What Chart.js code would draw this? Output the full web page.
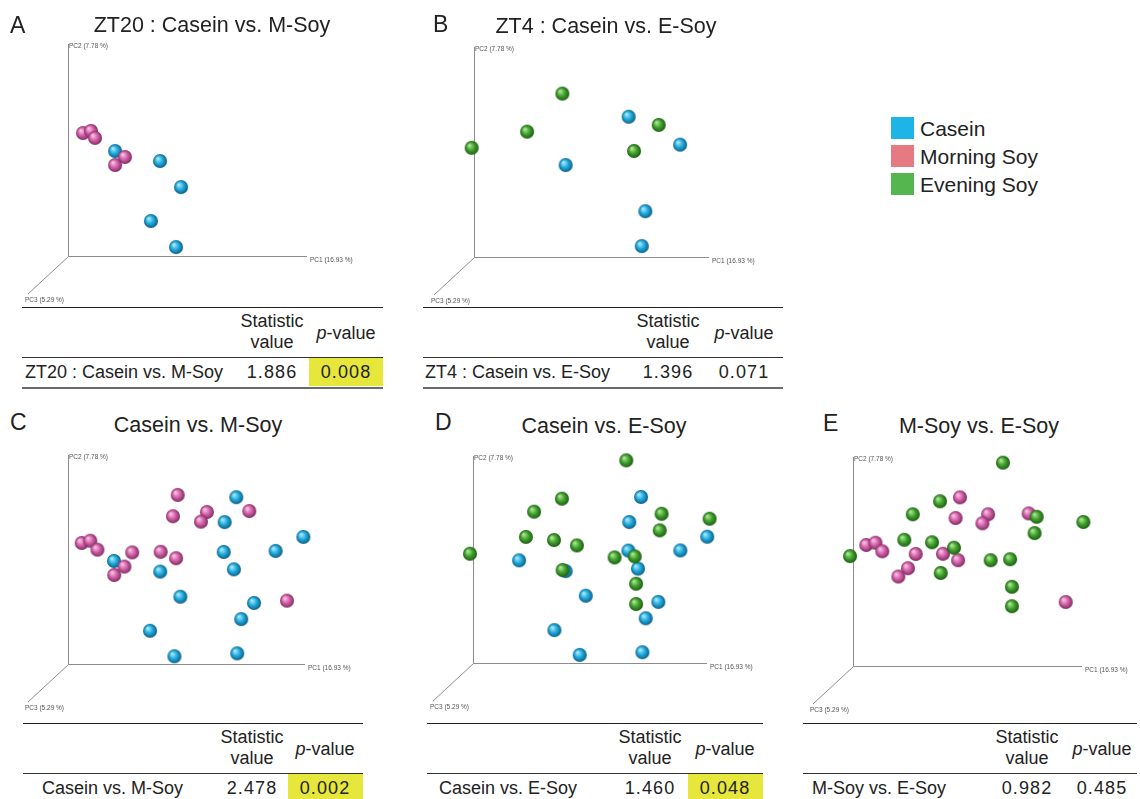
<!DOCTYPE html>
<html>
<head>
<meta charset="utf-8">
<script src="https://cdn.jsdelivr.net/npm/chart.js@4.4.1/dist/chart.umd.min.js"></script>
<style>
  body { margin: 0; width: 1140px; height: 799px; background: #fff; position: relative; overflow: hidden;
         font-family: "Liberation Sans", Arial, sans-serif; color: #222; }
  .abs { position: absolute; white-space: nowrap; }
  .letter { font-size: 23px; line-height: 23px; }
  .title { font-size: 21.5px; line-height: 21.5px; transform: translateX(-50%); }
  .cell { font-size: 18px; line-height: 18px; }
  .num { letter-spacing: 1.1px; }
  .center { transform: translateX(-50%); }
  .hl { background: #e6e63b; }
  .legtxt { font-size: 21px; line-height: 21px; }
</style>
</head>
<body>
<script>
// group names and legend colours
const groupNames = ['Casein', 'Morning Soy', 'Evening Soy'];
const groupColors = ['#1fb4e6', '#e57a83', '#55b54e'];

// PCoA scores (PC1 %, PC2 % of drawn axis length)
const aCasein = [[19.7,49.5],[38.5,44.8],[47.3,32.5],[34.7,16.5],[45.2,4.2]];
const aMSoy   = [[6.3,58.0],[9.6,59.0],[11.3,55.7],[23.8,46.7],[19.7,42.9]];

const bCasein = [[65.8,66.8],[87.7,53.5],[39.0,43.8],[72.9,21.8],[71.4,5.2]];
const bESoy   = [[-1.0,52.0],[22.6,59.7],[37.6,77.8],[78.6,62.9],[68.1,50.5]];

const cMSoy   = [[46.3,80.9],[44.3,70.7],[58.6,72.7],[56.1,68.1],[76.5,73.2],[5.8,57.9],[9.4,59.0],
                 [12.4,54.7],[27.1,53.4],[39.1,53.7],[45.6,50.6],[23.8,46.6],[19.5,42.6],[92.4,30.3]];
const cCasein = [[71.0,79.8],[66.1,67.9],[99.3,60.8],[65.7,53.6],[87.6,54.1],[19.4,49.3],[38.9,44.2],
                 [70.0,45.3],[47.4,32.2],[78.5,29.2],[73.1,21.5],[34.6,15.9],[44.9,3.7],[71.4,5.1]];

const dESoy   = [[65.5,97.9],[38.0,79.4],[26.1,73.1],[80.6,72.1],[101.1,69.7],[79.8,64.1],[22.6,60.9],
                 [34.6,59.4],[44.4,56.8],[-1.3,52.8],[60.5,51.0],[69.1,51.5],[38.3,44.9],[69.7,38.3],[69.7,28.5]];
const dCasein = [[71.8,80.2],[66.8,68.1],[100.1,61.0],[66.4,54.3],[88.6,54.4],[19.7,49.6],[39.6,44.4],
                 [70.5,45.6],[48.2,32.5],[79.2,29.5],[73.8,21.6],[34.8,15.9],[45.6,3.9],[72.4,5.2]];

const eESoy   = [[65.5,97.3],[38.0,78.8],[26.1,72.6],[80.2,71.4],[100.6,68.9],[79.3,63.6],[22.4,60.4],
                 [34.5,59.2],[44.1,56.6],[-1.3,52.6],[60.1,50.6],[68.6,51.1],[38.3,44.5],[69.4,37.9],[69.4,28.6]];
const eMSoy   = [[46.7,80.7],[44.8,70.8],[59.0,72.6],[56.5,68.3],[76.7,73.0],[5.8,57.9],[9.8,59.0],
                 [12.8,54.9],[27.4,53.6],[39.3,53.7],[45.9,50.6],[24.0,46.8],[19.8,42.8],[92.9,30.6]];

// axis labels
const pc1Label = 'PC1 (16.93 %)';
const pc2Label = 'PC2 (7.78 %)';
const pc3Label = 'PC3 (5.29 %)';

// PERMANOVA results
const comparisons = ['ZT20 : Casein vs. M-Soy', 'ZT4 : Casein vs. E-Soy', 'Casein vs. M-Soy', 'Casein vs. E-Soy', 'M-Soy vs. E-Soy'];
const titles      = ['ZT20 : Casein vs. M-Soy', 'ZT4 : Casein vs. E-Soy', 'Casein vs. M-Soy', 'Casein vs. E-Soy', 'M-Soy vs. E-Soy'];
const letters     = ['A', 'B', 'C', 'D', 'E'];
const statValues  = ['1.886', '1.396', '2.478', '1.460', '0.982'];
const pValues     = ['0.008', '0.071', '0.002', '0.048', '0.485'];
const significant = [true, false, true, true, false];

// sphere sprites
function sphere(light, mid, dark) {
  const s = 16, c = document.createElement('canvas');
  c.width = s; c.height = s;
  const g = c.getContext('2d');
  const grad = g.createRadialGradient(s/2 - 2.4, s/2 - 2.6, 0.4, s/2, s/2, 7.2);
  grad.addColorStop(0, light);
  grad.addColorStop(0.5, mid);
  grad.addColorStop(1, dark);
  g.fillStyle = grad;
  g.beginPath(); g.arc(s/2, s/2, 7.0, 0, Math.PI * 2); g.fill();
  return c;
}
const sprites = {
  casein: sphere('#b0ecfd', '#22addf', '#0c5a80'),
  msoy:   sphere('#fac6e8', '#d462a9', '#7a2a5e'),
  esoy:   sphere('#b5e79c', '#42a42e', '#1b5912')
};

const pad = { left: 50, right: 60, top: 15, bottom: 50 };

const panels = [
  { ox: 68,  oy: 256, w: 239, h: 212, sets: [[aMSoy, 'msoy'], [aCasein, 'casein']] },
  { ox: 474, oy: 257, w: 235, h: 210, sets: [[bESoy, 'esoy'], [bCasein, 'casein']] },
  { ox: 68,  oy: 664, w: 237, h: 209, sets: [[cMSoy, 'msoy'], [cCasein, 'casein']] },
  { ox: 473, oy: 663, w: 234, h: 207, sets: [[dESoy, 'esoy'], [dCasein, 'casein']] },
  { ox: 853, oy: 666, w: 229, h: 209, sets: [[eESoy, 'esoy'], [eMSoy, 'msoy']] }
];

const pcAxes = {
  id: 'pcAxes',
  beforeDatasetsDraw(chart) {
    const { ctx, scales: { x, y } } = chart;
    const x0 = x.getPixelForValue(0), y0 = y.getPixelForValue(0);
    const x1 = x.getPixelForValue(100), y1 = y.getPixelForValue(100);
    const dx = -40, dy = 38;
    ctx.save();
    ctx.strokeStyle = '#8c8c8c';
    ctx.lineWidth = 1;
    ctx.beginPath();
    ctx.moveTo(x0 + 0.5, y0 + 0.5); ctx.lineTo(x1, y0 + 0.5);
    ctx.moveTo(x0 + 0.5, y0 + 0.5); ctx.lineTo(x0 + 0.5, y1);
    ctx.moveTo(x0 + 0.5, y0 + 0.5); ctx.lineTo(x0 + dx, y0 + dy);
    ctx.stroke();
    ctx.fillStyle = '#555';
    ctx.font = '6.5px "Liberation Sans", Arial, sans-serif';
    ctx.textBaseline = 'middle';
    ctx.fillText(pc2Label, x0 + 1, y1 + 2);
    ctx.fillText(pc1Label, x1 + 3, y0 + 4);
    ctx.textBaseline = 'top';
    ctx.fillText(pc3Label, x0 + dx - 3, y0 + dy + 3);
    ctx.restore();
  }
};

function addDiv(cls, text, left, top, extra) {
  const d = document.createElement('div');
  d.className = 'abs ' + cls;
  d.innerHTML = text;
  d.style.left = left + 'px';
  d.style.top = top + 'px';
  if (extra) Object.assign(d.style, extra);
  document.body.appendChild(d);
  return d;
}

panels.forEach(function(p) {
  const cw = p.w + pad.left + pad.right, chh = p.h + pad.top + pad.bottom;
  const canvas = document.createElement('canvas');
  canvas.width = cw; canvas.height = chh;
  canvas.style.position = 'absolute';
  canvas.style.left = (p.ox - pad.left) + 'px';
  canvas.style.top = (p.oy - p.h - pad.top) + 'px';
  canvas.style.width = cw + 'px'; canvas.style.height = chh + 'px';
  document.body.appendChild(canvas);

  new Chart(canvas.getContext('2d'), {
    type: 'scatter',
    data: {
      datasets: p.sets.map(function(s) {
        return {
          data: s[0].map(function(v) { return { x: v[0], y: v[1] }; }),
          pointStyle: sprites[s[1]],
          clip: false
        };
      })
    },
    options: {
      responsive: false,
      animation: false,
      events: [],
      layout: { padding: pad },
      plugins: { legend: { display: false }, tooltip: { enabled: false } },
      scales: {
        x: { type: 'linear', min: 0, max: 100, display: false },
        y: { type: 'linear', min: 0, max: 100, display: false }
      }
    },
    plugins: [pcAxes]
  });
});

// panel letters and titles
const headPos = [[10, 14, 212, 15], [433, 13, 606, 16], [10, 411, 198, 415], [435, 411, 604, 416], [823, 412, 979, 416]];
headPos.forEach(function(h, i) {
  addDiv('letter', letters[i], h[0], h[1]);
  addDiv('title', titles[i], h[2], h[3]);
});

// statistic tables
const tables = [
  { l: 22,  r: 383,  top: 307, stat: 272,  p: 346,  rowL: 25,  bottom: true },
  { l: 423, r: 783,  top: 307, stat: 668,  p: 744,  rowL: 425, bottom: true },
  { l: 23,  r: 363,  top: 723, stat: 252,  p: 325,  rowL: 42,  bottom: false },
  { l: 427, r: 763,  top: 723, stat: 650,  p: 725,  rowL: 439, bottom: false },
  { l: 803, r: 1137, top: 723, stat: 1027, p: 1102, rowL: 812, bottom: false }
];
tables.forEach(function(t, i) {
  const line = function(y, hgt, col) {
    addDiv('', '', t.l, y, { width: (t.r - t.l) + 'px', height: hgt + 'px', background: col });
  };
  line(t.top, 1.2, '#222');
  line(t.top + 49.5, 1.5, '#333');
  if (t.bottom) line(t.top + 80, 2.2, '#6a6a6a');
  if (significant[i]) {
    const pl = t.p - 37, pr = t.r;
    addDiv('hl', '', pl, t.top + 51, { width: (pr - pl) + 'px', height: '28px' });
  }
  addDiv('cell center', 'Statistic', t.stat, t.top + 4.5);
  addDiv('cell center', 'value', t.stat, t.top + 25.5);
  addDiv('cell center', '<i>p</i>-value', t.p, t.top + 17);
  addDiv('cell', comparisons[i], t.rowL, t.top + 55.5);
  addDiv('cell center num', statValues[i], t.stat, t.top + 55.5);
  addDiv('cell center num', pValues[i], t.p, t.top + 55.5);
});

// legend
groupNames.forEach(function(name, i) {
  const y = 117 + i * 28;
  addDiv('', '', 891, y, { width: '23px', height: '22px', background: groupColors[i] });
  addDiv('legtxt', name, 920, y + 1);
});
</script>
</body>
</html>
